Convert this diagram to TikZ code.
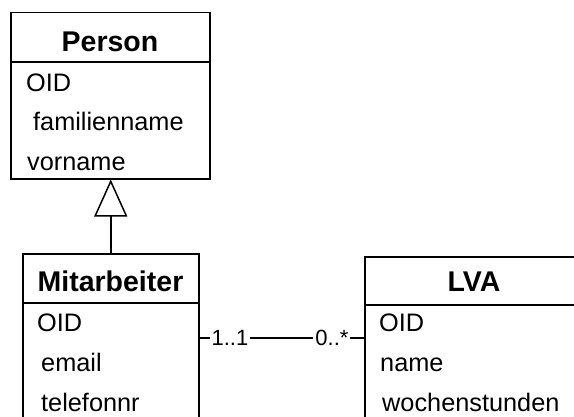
\documentclass[tikz,border=0pt]{standalone}
\usepackage{fontspec}
\setmainfont{Liberation Sans}
\usetikzlibrary{arrows.meta}
\begin{document}
\begin{tikzpicture}[x=1pt,y=-1pt,
  classbox/.style={draw, line width=1.5pt, rectangle, anchor=north west, inner sep=0pt},
  sepline/.style={line width=1.5pt},
  classname/.style={anchor=base, inner sep=0pt, font=\fontsize{28.5}{33}\selectfont\bfseries},
  attr/.style={anchor=base west, inner sep=0pt, font=\fontsize{25.3}{30}\selectfont},
  mult/.style={fill=white, inner sep=2pt, font=\fontsize{22}{26}\selectfont},
  assoc/.style={line width=1.5pt},
  inherit/.style={line width=1.5pt, -{Triangle[open, width=33pt, length=37pt, line width=1.5pt]}}]
  % page frame
  \fill[white] (0,0) rectangle (574,416);
  \useasboundingbox (0,0) rectangle (574,416);
  \clip (0,0) rectangle (574,416);

  % class Person
  \node[classbox, minimum width=199pt, minimum height=166.3pt] (person) at (10,11.7) {};
  \draw[sepline] ([yshift=-50.3pt]person.north west) -- ([yshift=-50.3pt]person.north east);
  \node[classname] (person-name) at (110,51.7) {Person};
  \node[attr] (person-oid) at (26,91.7) {OID};
  \node[attr] (person-fam) at (33,130) {familienname};
  \node[attr] (person-vor) at (27,170) {vorname};

  % class Mitarbeiter
  \node[classbox, minimum width=176pt, minimum height=220pt] (mitarbeiter) at (22,253) {};
  \draw[sepline] ([yshift=-50pt]mitarbeiter.north west) -- ([yshift=-50pt]mitarbeiter.north east);
  \node[classname] (mitarbeiter-name) at (110.5,291.7) {Mitarbeiter};
  \node[attr] (mitarbeiter-oid) at (37,331.7) {OID};
  \node[attr] (mitarbeiter-email) at (41,371.7) {email};
  \node[attr] (mitarbeiter-tel) at (41,411.7) {telefonnr};

  % class LVA
  \node[classbox, minimum width=240pt, minimum height=220pt] (lva) at (364,256) {};
  \draw[sepline] ([yshift=-49pt]lva.north west) -- ([yshift=-49pt]lva.north east);
  \node[classname] (lva-name) at (474,291.7) {LVA};
  \node[attr] (lva-oid) at (379,331.7) {OID};
  \node[attr] (lva-nm) at (380,371.7) {name};
  \node[attr] (lva-ws) at (382,411.7) {wochenstunden};

  % generalisation Mitarbeiter -> Person
  \draw[inherit] (mitarbeiter.north) -- (mitarbeiter.north |- person.south);

  % association Mitarbeiter -- LVA
  \coordinate (assocy) at (0,338);
  \draw[assoc] (mitarbeiter.east |- assocy) -- (lva.west |- assocy)
    node[mult, pos=0.185] (m1) {1..1}
    node[mult, pos=0.805] (m2) {0..*};
\end{tikzpicture}
\end{document}
